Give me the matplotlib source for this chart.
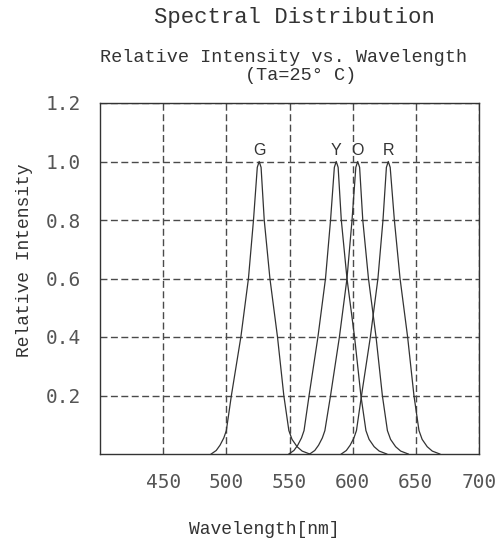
import matplotlib
matplotlib.use("Agg")
from matplotlib import pyplot as plt

# wavelength (nm) / relative intensity for each LED colour
g_wl = [488, 492, 495, 498, 500, 504, 511.5, 517.5, 521.5, 524.5, 526, 527.5, 530, 534.5, 540.5, 545.5, 549.5, 552, 556, 560, 566]
g_int = [0, 0.012, 0.03, 0.055, 0.08, 0.2, 0.4, 0.6, 0.8, 0.98, 1.0, 0.98, 0.8, 0.6, 0.4, 0.2, 0.08, 0.05, 0.025, 0.01, 0]

y_wl = [549.5, 553.5, 556.5, 559.5, 561.5, 565.5, 572.5, 578.5, 582.5, 585.5, 587, 588.5, 591, 595.5, 601.5, 606.5, 610.5, 613, 617, 621, 627]
y_int = [0, 0.012, 0.03, 0.055, 0.08, 0.2, 0.4, 0.6, 0.8, 0.98, 1.0, 0.98, 0.8, 0.6, 0.4, 0.2, 0.08, 0.05, 0.025, 0.01, 0]

o_wl = [566, 570, 573, 576, 578, 582.5, 589.5, 595.5, 599.5, 602.5, 604, 605.5, 608, 612.5, 618.5, 623.5, 627.5, 630, 634, 638, 644]
o_int = [0, 0.012, 0.03, 0.055, 0.08, 0.2, 0.4, 0.6, 0.8, 0.98, 1.0, 0.98, 0.8, 0.6, 0.4, 0.2, 0.08, 0.05, 0.025, 0.01, 0]

r_wl = [591, 595, 598, 601, 603, 607, 614, 620, 624, 626.7, 628.2, 629.7, 633, 637.5, 643.5, 648.5, 652.5, 655, 659, 663, 669]
r_int = [0, 0.012, 0.03, 0.055, 0.08, 0.2, 0.4, 0.6, 0.8, 0.98, 1.0, 0.98, 0.8, 0.6, 0.4, 0.2, 0.08, 0.05, 0.025, 0.01, 0]

names = ['G', 'Y', 'O', 'R']
xticks = [450, 500, 550, 600, 650, 700]
yticks = [0.2, 0.4, 0.6, 0.8, 1.0, 1.2]

W, H = 503, 548
fig = plt.figure(figsize=(W/100, H/100), dpi=100)
ax = fig.add_axes([100/W, 1 - 454/H, 379/W, 351/H])

mono = 'Liberation Mono'
dark = '#333333'

for wl, inten, name in zip([g_wl, y_wl, o_wl, r_wl],
                           [g_int, y_int, o_int, r_int], names):
    ax.plot(wl, inten, '-', color=dark, lw=0.9, zorder=3)
    k = inten.index(max(inten))
    ax.annotate(name, (wl[k], inten[k]), xytext=(0, 2.5), textcoords='offset points',
                ha='center', va='bottom', fontsize=11.5, family='Liberation Sans', color=dark)

ax.set_xlim(400, 700)
ax.set_ylim(0, 1.2)
ax.set_xticks(xticks)
ax.set_xticklabels([str(v) for v in xticks])
ax.set_yticks(yticks)
ax.set_yticklabels(['%.1f' % v for v in yticks])
ax.tick_params(length=0, labelsize=14, colors='#555555')
ax.tick_params(axis='x', pad=14)
ax.tick_params(axis='y', pad=14)
for lab in ax.get_xticklabels() + ax.get_yticklabels():
    lab.set_family('DejaVu Sans Mono')
ax.grid(True, linestyle=(0, (5, 2.5)), color='#4a4a4a', lw=1.0)
for sp in ax.spines.values():
    sp.set_color(dark)
    sp.set_linewidth(1.0)

fig.text(294/W, 1 - 17.5/H, 'Spectral Distribution', family=mono, fontsize=16,
         ha='center', va='center', color=dark)
fig.text(284/W, 1 - 57/H, 'Relative Intensity vs. Wavelength', family=mono, fontsize=13.3,
         ha='center', va='center', color=dark)
fig.text(301/W, 1 - 75.5/H, '(Ta=25° C)', family=mono, fontsize=13.3,
         ha='center', va='center', color=dark)
fig.text(264/W, 1 - 530/H, 'Wavelength[nm]', family=mono, fontsize=13,
         ha='center', va='center', color=dark)
fig.text(25/W, 1 - 260/H, 'Relative Intensity', family=mono, fontsize=13,
         ha='center', va='center', rotation=90, color=dark)

plt.savefig('out.png', dpi=100)
